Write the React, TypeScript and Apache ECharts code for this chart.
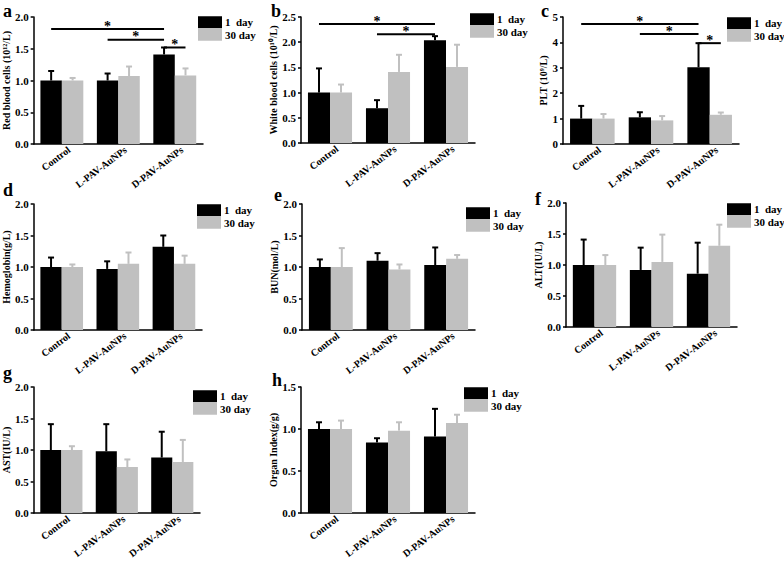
import React, { useEffect, useRef } from 'react';
import * as echarts from 'echarts';

const categories = ['Control', 'L-PAV-AuNPs', 'D-PAV-AuNPs'];
const legendNames = ['1  day', '30 day'];
const panelLetters = ['a', 'b', 'c', 'd', 'e', 'f', 'g', 'h'];
const axisNames = [
  'Red blood cells (10¹²/L)',
  'White blood cells (10¹⁰/L)',
  'PLT (10⁹/L)',
  'Hemoglobin(g/L)',
  'BUN(mol/L)',
  'ALT(IU/L)',
  'AST(IU/L)',
  'Organ Index(g/g)',
];
const yMax = [2, 2.5, 5, 2, 2, 2, 2, 1.5];
const yInterval = [0.5, 0.5, 1, 0.5, 0.5, 0.5, 0.5, 0.5];

// means and upper error for 1 day
const day1Mean = [
  [1.0, 1.0, 1.41],
  [1.0, 0.69, 2.04],
  [1.0, 1.05, 3.02],
  [1.0, 0.97, 1.32],
  [1.0, 1.1, 1.03],
  [1.0, 0.92, 0.86],
  [1.0, 0.98, 0.88],
  [1.0, 0.84, 0.91],
];
const day1Err = [
  [0.15, 0.11, 0.11],
  [0.48, 0.16, 0.08],
  [0.5, 0.2, 0.95],
  [0.15, 0.12, 0.18],
  [0.12, 0.12, 0.28],
  [0.41, 0.36, 0.5],
  [0.41, 0.43, 0.41],
  [0.08, 0.05, 0.33],
];
// means and upper error for 30 day
const day30Mean = [
  [1.0, 1.07, 1.08],
  [1.0, 1.41, 1.51],
  [1.0, 0.93, 1.15],
  [1.0, 1.05, 1.05],
  [1.0, 0.96, 1.13],
  [1.0, 1.05, 1.31],
  [1.0, 0.73, 0.81],
  [1.0, 0.98, 1.07],
];
const day30Err = [
  [0.04, 0.15, 0.11],
  [0.16, 0.34, 0.44],
  [0.18, 0.17, 0.09],
  [0.04, 0.18, 0.13],
  [0.3, 0.08, 0.06],
  [0.16, 0.44, 0.34],
  [0.06, 0.12, 0.35],
  [0.1, 0.1, 0.1],
];
// significance brackets: [fromCategory, fromSeries(0=1 day,1=30 day), toCategory, toSeries, y]
const sigLines = [
  [[0, 0, 2, 0, 1.81], [1, 0, 2, 0, 1.64], [2, 0, 2, 1, 1.52]],
  [[0, 0, 2, 0, 2.36], [1, 0, 2, 0, 2.16]],
  [[0, 0, 2, 0, 4.72], [1, 0, 2, 0, 4.33], [2, 0, 2, 1, 3.97]],
  [], [], [], [], [],
];

// layout (pixels)
const grids = [
  { left: 31, top: 17, width: 172, height: 127 },
  { left: 301, top: 17, width: 174, height: 126 },
  { left: 563, top: 17, width: 176, height: 127 },
  { left: 31, top: 204, width: 171, height: 126 },
  { left: 302, top: 204, width: 173, height: 126 },
  { left: 566, top: 203, width: 171, height: 124 },
  { left: 30, top: 387, width: 170, height: 126 },
  { left: 301, top: 387, width: 174, height: 126 },
];
const nameGaps = [17, 9, 13, 19, 19, 20, 21, 19];
const legendPos = [
  [198, 16], [470, 13], [727, 17], [197, 204], [466, 207], [727, 203], [193, 390], [464, 387],
];
const letterPos = [
  [3, 17], [271, 17], [541, 17], [3, 196], [274, 201], [535, 205], [3, 379], [272, 386],
];

const FONT = "'Liberation Serif', 'Times New Roman', serif";
const BLACK = '#000000';
const GRAY = '#c0c0c0';
const CAT_GAP = 0.24;
const BAR_HALF = (1 - CAT_GAP) / 4;

const errRender = (params: any, api: any) => {
  const c = api.value(0);
  const side = api.value(1);
  const band = api.size([1, 0])[0];
  const p0 = api.coord([c, api.value(2)]);
  const p1 = api.coord([c, api.value(3)]);
  const x = p0[0] + (side ? 1 : -1) * band * BAR_HALF;
  const color = side ? GRAY : BLACK;
  return {
    type: 'group',
    children: [
      { type: 'line', shape: { x1: x, y1: p0[1], x2: x, y2: p1[1] }, style: { stroke: color, lineWidth: 2 } },
      { type: 'line', shape: { x1: x - 3, y1: p1[1], x2: x + 3, y2: p1[1] }, style: { stroke: color, lineWidth: 2 } },
    ],
  };
};

const sigRender = (params: any, api: any) => {
  const band = api.size([1, 0])[0];
  const pa = api.coord([api.value(0), api.value(4)]);
  const pb = api.coord([api.value(2), api.value(4)]);
  const xa = pa[0] + (api.value(1) ? 1 : -1) * band * BAR_HALF;
  const xb = pb[0] + (api.value(3) ? 1 : -1) * band * BAR_HALF;
  return {
    type: 'group',
    children: [
      { type: 'line', shape: { x1: xa, y1: pa[1], x2: xb, y2: pa[1] }, style: { stroke: BLACK, lineWidth: 2 } },
      {
        type: 'text',
        x: (xa + xb) / 2,
        y: pa[1] - 3,
        style: { text: '*', fontSize: 14, fontWeight: 'bold', fontFamily: FONT, fill: BLACK, stroke: 'none', align: 'center', verticalAlign: 'middle' },
      },
    ],
  };
};

function buildOption() {
  const grid: any[] = [];
  const xAxis: any[] = [];
  const yAxis: any[] = [];
  const series: any[] = [];
  const legend: any[] = [];
  const graphic: any[] = [];
  for (let i = 0; i < 8; i++) {
    grid.push({ ...grids[i], containLabel: false });
    xAxis.push({
      type: 'category',
      gridIndex: i,
      data: categories,
      axisLine: { lineStyle: { color: BLACK, width: 1.5 } },
      axisTick: { show: false },
      axisLabel: {
        interval: 0,
        rotate: 37,
        margin: 10,
        padding: [0, -9, 0, 0],
        fontFamily: FONT,
        fontWeight: 'bold',
        fontSize: 10,
        color: BLACK,
      },
    });
    yAxis.push({
      type: 'value',
      gridIndex: i,
      min: 0,
      max: yMax[i],
      interval: yInterval[i],
      name: axisNames[i],
      nameLocation: 'middle',
      nameGap: nameGaps[i],
      nameTextStyle: { fontFamily: FONT, fontWeight: 'bold', fontSize: 10, color: BLACK },
      axisLine: { show: true, lineStyle: { color: BLACK, width: 1.5 } },
      axisTick: { show: true, length: 3, lineStyle: { color: BLACK, width: 1.5 } },
      splitLine: { show: false },
      axisLabel: {
        margin: 5,
        fontFamily: FONT,
        fontWeight: 'bold',
        fontSize: 11,
        color: BLACK,
        formatter: (v: number) => (yInterval[i] >= 1 ? String(v) : v.toFixed(1)),
      },
    });
    series.push({
      type: 'bar',
      name: legendNames[0],
      xAxisIndex: i,
      yAxisIndex: i,
      data: day1Mean[i],
      barGap: '0%',
      barCategoryGap: CAT_GAP * 100 + '%',
      itemStyle: { color: BLACK },
    });
    series.push({
      type: 'bar',
      name: legendNames[1],
      xAxisIndex: i,
      yAxisIndex: i,
      data: day30Mean[i],
      barGap: '0%',
      barCategoryGap: CAT_GAP * 100 + '%',
      itemStyle: { color: GRAY },
    });
    const errData: number[][] = [];
    for (let c = 0; c < categories.length; c++) {
      errData.push([c, 0, day1Mean[i][c], day1Mean[i][c] + day1Err[i][c]]);
      errData.push([c, 1, day30Mean[i][c], day30Mean[i][c] + day30Err[i][c]]);
    }
    series.push({
      type: 'custom',
      name: 'err' + i,
      xAxisIndex: i,
      yAxisIndex: i,
      renderItem: errRender,
      encode: { x: 0, y: 3 },
      data: errData,
      itemStyle: { color: BLACK },
      z: 3,
    });
    if (sigLines[i].length) {
      series.push({
        type: 'custom',
        name: 'sig' + i,
        xAxisIndex: i,
        yAxisIndex: i,
        renderItem: sigRender,
        encode: { x: 0, y: 4 },
        data: sigLines[i],
        itemStyle: { color: BLACK },
        clip: false,
        z: 4,
      });
    }
    legend.push({
      left: legendPos[i][0],
      top: legendPos[i][1],
      orient: 'vertical',
      padding: 0,
      itemWidth: 24,
      itemHeight: 12,
      itemGap: 0,
      icon: 'rect',
      selectedMode: false,
      data: legendNames,
      textStyle: { fontFamily: FONT, fontWeight: 'bold', fontSize: 11, color: BLACK, lineHeight: 12.5, padding: [0, 0, 0, -2] },
    });
    graphic.push({
      type: 'text',
      x: letterPos[i][0],
      y: letterPos[i][1] - 6,
      style: { text: panelLetters[i], fontFamily: FONT, fontWeight: 'bold', fontSize: 18, fill: BLACK, align: 'left', verticalAlign: 'middle' },
    });
  }
  return {
    animation: false,
    backgroundColor: '#ffffff',
    grid,
    xAxis,
    yAxis,
    series,
    legend,
    graphic,
  };
}

export default function App() {
  const ref = useRef<HTMLDivElement>(null);
  useEffect(() => {
    if (!ref.current) return;
    const chart = echarts.init(ref.current, undefined, { renderer: 'svg' });
    chart.setOption(buildOption() as any);
    return () => chart.dispose();
  }, []);
  return <div ref={ref} style={{ position: 'absolute', left: 0, top: 0, width: 784, height: 561 }} />;
}
